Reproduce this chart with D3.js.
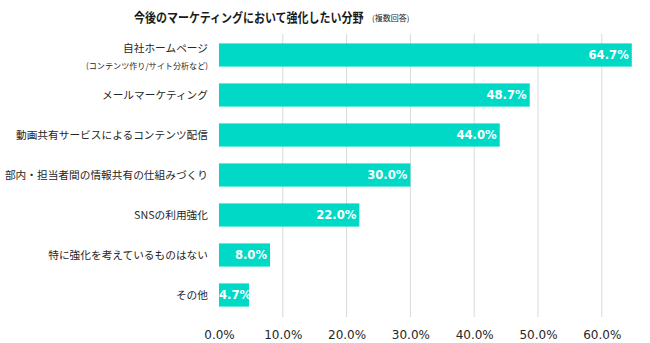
<!DOCTYPE html>
<html><head><meta charset="utf-8">
<script src="https://cdn.jsdelivr.net/npm/d3@7"></script>
<style>
body{margin:0;background:#fff;}
svg{display:block;}
</style></head>
<body>
<svg id="c" width="650" height="343"></svg>
<script>
const categories = ["自社ホームページ","メールマーケティング","動画共有サービスによるコンテンツ配信","部内・担当者間の情報共有の仕組みづくり","SNSの利用強化","特に強化を考えているものはない","その他"];
const subLabels = ["(コンテンツ作り/サイト分析など)","","","","","",""];
const values = [64.7,48.7,44.0,30.0,22.0,8.0,4.7];
const ticks = [0,10,20,30,40,50,60,70];
const tickLabels = ["0.0%","10.0%","20.0%","30.0%","40.0%","50.0%","60.0%",""];
const title = "今後のマーケティングにおいて強化したい分野";
const subtitle = "(複数回答)";

const svg = d3.select("#c");
const jp = "'Noto Sans CJK JP','Noto Sans',sans-serif";
const latin = "'DejaVu Sans',Verdana,sans-serif";
const x = d3.scaleLinear().domain([0,70]).range([219,665.6]);
const y = d3.scaleBand().domain(categories).range([35,315]).paddingInner(0.42).paddingOuter(0.21);

// gridlines
svg.append("g").selectAll("line").data(ticks.slice(1)).join("line")
  .attr("x1",d=>x(d)).attr("x2",d=>x(d)).attr("y1",34).attr("y2",317)
  .attr("stroke","#d9d9d9").attr("stroke-width",1);

// bars
svg.append("g").selectAll("rect").data(values).join("rect")
  .attr("x",x(0)).attr("y",(d,i)=>y(categories[i]))
  .attr("width",d=>x(d)-x(0)).attr("height",y.bandwidth())
  .attr("fill","#00d9c6");

// value labels
const vl = svg.append("g").selectAll("text").data(values).join("text")
  .attr("y",(d,i)=>y(categories[i])+y.bandwidth()/2+4.2)
  .attr("font-family",latin).attr("font-weight","bold").attr("font-size","11.6px")
  .attr("fill","#fff")
  .text(d=>d.toFixed(1)+"%");
vl.each(function(d){
  const w = this.getComputedTextLength();
  const end = x(d)-3;
  if(end - w < x(0)){ d3.select(this).attr("x",x(0)).attr("text-anchor","start"); }
  else { d3.select(this).attr("x",end).attr("text-anchor","end"); }
});

// category labels
const cl = svg.append("g");
categories.forEach((c,i)=>{
  const cy = y(c)+y.bandwidth()/2;
  if(subLabels[i]){
    cl.append("text").attr("x",208).attr("y",cy-3).attr("text-anchor","end")
      .attr("font-family",jp).attr("font-size","10.7px").attr("fill","#262626").text(c);
    cl.append("text").attr("x",208).attr("y",cy+14).attr("text-anchor","end")
      .attr("font-family",jp).attr("font-size","8.1px").attr("fill","#262626").text(subLabels[i]);
  } else {
    cl.append("text").attr("x",208).attr("y",cy+4).attr("text-anchor","end")
      .attr("font-family",jp).attr("font-size","10.7px").attr("fill","#262626").text(c);
  }
});

// x axis tick labels
const axis = d3.axisBottom(x).tickValues(ticks.slice(0,7)).tickSize(0).tickFormat((d,i)=>tickLabels[i]);
const ag = svg.append("g").attr("transform","translate(0,327)").call(axis);
ag.select(".domain").remove();
ag.selectAll("text").attr("font-family",latin).attr("font-size","12px").attr("fill","#262626").attr("dy","0.71em");

// title
svg.append("text").attr("transform","translate(134,22) scale(1,1.14)")
  .attr("font-family",jp).attr("fill","#1a1a1a")
  .attr("font-weight","bold").attr("font-size","11px")
  .text(title);
svg.append("text").attr("x",372).attr("y",21)
  .attr("font-family",jp).attr("fill","#1a1a1a")
  .attr("font-size","8px").text(subtitle);
</script>
</body></html>
